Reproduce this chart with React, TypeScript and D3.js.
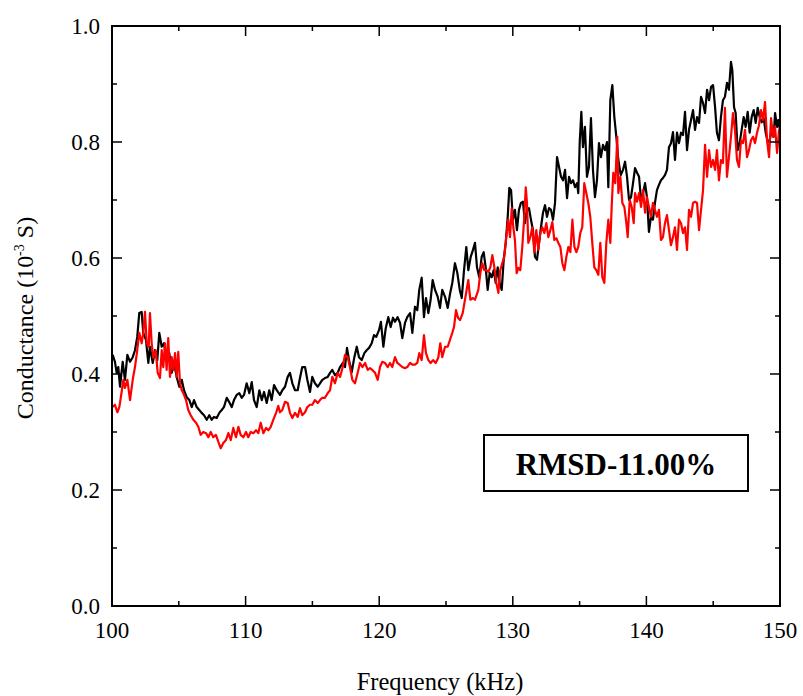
import React from "react";
import * as d3 from "d3";

const freqBlack = [100.05,100.22,100.35,100.47,100.6,100.8,100.97,101.15,101.35,101.55,101.72,101.89,102.04,102.22,102.34,102.54,102.72,102.84,103.05,103.22,103.39,103.54,103.72,103.89,104.09,104.29,104.47,104.64,104.84,105.04,105.22,105.39,105.59,105.79,105.97,106.14,106.34,106.53,106.71,106.89,107.09,107.28,107.46,107.63,107.84,108.03,108.21,108.38,108.59,108.76,108.96,109.13,109.33,109.53,109.71,109.88,110.08,110.28,110.46,110.63,110.83,111.03,111.21,111.38,111.58,111.77,111.95,112.13,112.33,112.57,112.75,112.95,113.15,113.32,113.5,113.7,113.9,114.07,114.24,114.45,114.62,114.82,114.99,115.19,115.4,115.57,115.74,115.94,116.15,116.32,116.49,116.69,116.89,117.07,117.27,117.44,117.59,117.74,117.94,118.14,118.32,118.49,118.69,118.89,119.06,119.24,119.44,119.61,119.78,119.99,120.13,120.31,120.49,120.68,120.86,121.03,121.18,121.38,121.56,121.73,121.93,122.1,122.31,122.48,122.68,122.85,123.0,123.18,123.35,123.5,123.68,123.85,124.0,124.18,124.38,124.55,124.72,124.93,125.13,125.3,125.47,125.67,125.85,126.03,126.18,126.35,126.52,126.67,126.85,127.02,127.17,127.32,127.49,127.67,127.82,127.97,128.12,128.27,128.42,128.57,128.72,128.87,129.02,129.17,129.32,129.47,129.62,129.74,129.87,130.01,130.16,130.31,130.46,130.61,130.76,130.91,131.06,131.21,131.36,131.51,131.66,131.81,131.96,132.11,132.26,132.41,132.56,132.71,132.86,133.01,133.16,133.31,133.46,133.61,133.76,133.91,134.06,134.21,134.36,134.51,134.66,134.81,134.9,135.01,135.13,135.25,135.4,135.55,135.7,135.85,136.0,136.15,136.3,136.45,136.6,136.75,136.9,137.05,137.15,137.3,137.45,137.6,137.75,137.9,138.08,138.25,138.4,138.55,138.7,138.85,139.0,139.15,139.3,139.45,139.6,139.75,139.9,140.04,140.19,140.34,140.49,140.64,140.79,140.94,141.09,141.24,141.39,141.54,141.69,141.84,141.99,142.14,142.29,142.44,142.59,142.74,142.89,143.04,143.19,143.34,143.49,143.64,143.79,143.94,144.09,144.24,144.39,144.54,144.69,144.84,144.99,145.14,145.28,145.43,145.58,145.73,145.88,146.03,146.18,146.33,146.43,146.56,146.68,146.83,146.98,147.13,147.28,147.43,147.58,147.73,147.88,148.03,148.18,148.33,148.48,148.63,148.78,148.93,149.08,149.23,149.38,149.53,149.63,149.78,149.88,150.0];
const condBlack = [0.433,0.421,0.402,0.412,0.378,0.421,0.39,0.433,0.421,0.429,0.441,0.464,0.505,0.507,0.471,0.459,0.419,0.447,0.419,0.441,0.424,0.471,0.447,0.453,0.424,0.436,0.402,0.419,0.395,0.378,0.39,0.372,0.36,0.355,0.343,0.355,0.343,0.338,0.333,0.329,0.321,0.329,0.321,0.326,0.324,0.333,0.338,0.343,0.359,0.352,0.343,0.355,0.364,0.367,0.359,0.364,0.384,0.367,0.386,0.355,0.343,0.372,0.355,0.369,0.35,0.372,0.355,0.381,0.372,0.364,0.372,0.378,0.395,0.402,0.384,0.372,0.372,0.393,0.412,0.412,0.39,0.369,0.395,0.384,0.378,0.384,0.39,0.393,0.395,0.402,0.407,0.398,0.402,0.412,0.419,0.412,0.445,0.424,0.403,0.429,0.447,0.429,0.424,0.436,0.441,0.445,0.453,0.467,0.464,0.476,0.49,0.447,0.479,0.498,0.481,0.497,0.49,0.498,0.488,0.462,0.488,0.498,0.505,0.471,0.516,0.51,0.545,0.566,0.498,0.531,0.505,0.528,0.562,0.545,0.533,0.514,0.545,0.533,0.514,0.538,0.557,0.591,0.574,0.545,0.531,0.579,0.619,0.579,0.602,0.614,0.626,0.584,0.567,0.602,0.61,0.584,0.545,0.574,0.567,0.579,0.557,0.584,0.557,0.545,0.597,0.626,0.671,0.721,0.717,0.666,0.683,0.648,0.683,0.695,0.697,0.66,0.683,0.686,0.666,0.648,0.602,0.597,0.626,0.653,0.678,0.691,0.671,0.686,0.683,0.666,0.695,0.774,0.757,0.74,0.734,0.752,0.703,0.74,0.729,0.734,0.722,0.729,0.712,0.8,0.852,0.791,0.826,0.74,0.757,0.841,0.752,0.705,0.734,0.798,0.774,0.795,0.786,0.8,0.722,0.872,0.898,0.843,0.809,0.769,0.743,0.752,0.766,0.74,0.7,0.705,0.729,0.755,0.747,0.74,0.7,0.712,0.729,0.705,0.645,0.671,0.666,0.695,0.717,0.726,0.734,0.738,0.743,0.752,0.791,0.798,0.817,0.769,0.816,0.798,0.816,0.812,0.852,0.786,0.821,0.838,0.855,0.821,0.843,0.833,0.878,0.867,0.85,0.89,0.872,0.895,0.898,0.86,0.816,0.803,0.843,0.872,0.878,0.902,0.89,0.938,0.924,0.86,0.85,0.786,0.798,0.821,0.843,0.826,0.852,0.816,0.843,0.855,0.833,0.859,0.843,0.834,0.841,0.816,0.8,0.803,0.821,0.809,0.85,0.826,0.838,0.821];

const freqRed = [100.05,100.22,100.4,100.55,100.72,100.85,100.97,101.15,101.35,101.55,101.72,101.89,102.04,102.22,102.34,102.47,102.6,102.75,102.84,102.97,103.09,103.27,103.42,103.59,103.72,103.84,103.97,104.09,104.21,104.34,104.47,104.59,104.72,104.84,104.96,105.09,105.22,105.34,105.54,105.71,105.89,106.09,106.29,106.46,106.64,106.83,107.04,107.21,107.39,107.58,107.78,107.96,108.14,108.33,108.53,108.71,108.89,109.08,109.28,109.46,109.63,109.83,110.03,110.2,110.38,110.58,110.78,110.95,111.13,111.33,111.53,111.7,111.88,112.07,112.28,112.45,112.57,112.75,112.95,113.15,113.32,113.5,113.7,113.9,114.07,114.24,114.45,114.62,114.82,114.99,115.19,115.4,115.57,115.74,115.94,116.15,116.32,116.49,116.69,116.89,117.07,117.27,117.44,117.64,117.81,117.99,118.19,118.39,118.56,118.74,118.94,119.14,119.31,119.48,119.69,119.89,120.06,120.23,120.43,120.64,120.81,120.98,121.18,121.36,121.53,121.73,121.93,122.1,122.31,122.48,122.68,122.85,123.0,123.18,123.35,123.5,123.68,123.85,124.03,124.23,124.42,124.57,124.72,124.93,125.13,125.3,125.47,125.6,125.75,125.9,126.05,126.25,126.42,126.67,126.82,127.02,127.17,127.42,127.57,127.72,127.87,128.02,128.17,128.32,128.47,128.62,128.77,128.92,129.06,129.21,129.36,129.51,129.66,129.79,129.92,130.04,130.16,130.29,130.41,130.56,130.71,130.86,130.97,131.06,131.16,131.31,131.46,131.61,131.76,131.91,132.06,132.21,132.36,132.51,132.66,132.81,132.96,133.11,133.26,133.41,133.56,133.71,133.86,134.01,134.16,134.31,134.46,134.61,134.76,134.9,135.05,135.2,135.35,135.5,135.65,135.8,135.95,136.1,136.25,136.4,136.55,136.7,136.85,137.0,137.15,137.3,137.4,137.52,137.67,137.82,137.9,138.05,138.2,138.35,138.5,138.6,138.75,138.9,139.05,139.15,139.3,139.45,139.6,139.75,139.9,140.04,140.19,140.34,140.49,140.64,140.79,140.94,141.09,141.24,141.39,141.54,141.69,141.84,141.99,142.14,142.29,142.44,142.59,142.74,142.89,143.04,143.19,143.34,143.49,143.64,143.79,143.94,144.09,144.24,144.39,144.54,144.69,144.84,144.99,145.14,145.28,145.43,145.58,145.73,145.88,146.03,146.18,146.33,146.48,146.63,146.78,146.93,147.08,147.23,147.38,147.53,147.68,147.83,147.98,148.13,148.28,148.43,148.58,148.73,148.88,149.03,149.18,149.33,149.48,149.63,149.78,149.93,150.0];
const condRed = [0.343,0.347,0.334,0.343,0.369,0.39,0.376,0.39,0.355,0.39,0.412,0.441,0.471,0.453,0.471,0.507,0.453,0.447,0.505,0.453,0.428,0.441,0.402,0.393,0.441,0.412,0.453,0.407,0.462,0.395,0.429,0.407,0.436,0.395,0.438,0.384,0.372,0.367,0.355,0.338,0.329,0.321,0.316,0.309,0.295,0.3,0.298,0.291,0.3,0.291,0.295,0.283,0.272,0.281,0.286,0.298,0.286,0.307,0.291,0.309,0.295,0.291,0.3,0.291,0.3,0.298,0.303,0.298,0.316,0.298,0.307,0.303,0.309,0.321,0.333,0.345,0.334,0.338,0.352,0.35,0.333,0.324,0.333,0.326,0.341,0.329,0.334,0.343,0.347,0.347,0.355,0.35,0.355,0.359,0.359,0.367,0.372,0.395,0.384,0.402,0.395,0.412,0.433,0.429,0.412,0.39,0.384,0.402,0.419,0.412,0.419,0.407,0.41,0.407,0.402,0.39,0.412,0.421,0.419,0.412,0.419,0.412,0.429,0.419,0.416,0.412,0.41,0.412,0.419,0.416,0.416,0.419,0.436,0.424,0.467,0.436,0.424,0.419,0.424,0.419,0.428,0.453,0.429,0.447,0.447,0.459,0.471,0.481,0.51,0.497,0.493,0.505,0.528,0.562,0.528,0.531,0.528,0.545,0.574,0.591,0.579,0.579,0.576,0.584,0.605,0.584,0.557,0.54,0.579,0.591,0.602,0.636,0.666,0.636,0.686,0.653,0.631,0.574,0.583,0.579,0.619,0.671,0.722,0.695,0.626,0.636,0.653,0.61,0.648,0.614,0.643,0.653,0.643,0.66,0.636,0.648,0.662,0.631,0.634,0.626,0.619,0.591,0.579,0.602,0.619,0.61,0.666,0.619,0.61,0.619,0.643,0.653,0.729,0.712,0.695,0.671,0.626,0.584,0.579,0.571,0.626,0.567,0.557,0.626,0.666,0.626,0.688,0.747,0.729,0.809,0.712,0.74,0.695,0.688,0.66,0.636,0.7,0.688,0.66,0.712,0.697,0.712,0.688,0.717,0.678,0.705,0.688,0.671,0.695,0.683,0.671,0.683,0.631,0.636,0.66,0.674,0.648,0.622,0.636,0.653,0.614,0.666,0.66,0.643,0.653,0.614,0.683,0.671,0.695,0.697,0.695,0.648,0.683,0.717,0.795,0.74,0.786,0.757,0.769,0.752,0.786,0.734,0.769,0.764,0.859,0.74,0.774,0.809,0.85,0.821,0.769,0.757,0.803,0.798,0.821,0.774,0.786,0.803,0.809,0.798,0.816,0.829,0.855,0.838,0.869,0.803,0.774,0.841,0.809,0.826,0.781,0.821,0.803];

const xMajorTicks = [100, 110, 120, 130, 140, 150];
const xMinorTicks = [105, 115, 125, 135, 145];
const yMajorTicks = [0, 0.2, 0.4, 0.6, 0.8, 1.0];
const yMinorTicks = [0.1, 0.3, 0.5, 0.7, 0.9];

const annotation = "RMSD-11.00%";
const xTitle = "Frequency (kHz)";

const W = 803, H = 696;
const L = 112, R = 780, T = 26, B = 606;
const FONT = "'Liberation Serif', 'Times New Roman', serif";

export default function App() {
  const x = d3.scaleLinear().domain([100, 150]).range([L, R]);
  const y = d3.scaleLinear().domain([0, 1]).range([B, T]);
  const line = d3.line<[number, number]>().x(d => x(d[0])).y(d => y(d[1]));
  const black = freqBlack.map((f, i) => [f, condBlack[i]] as [number, number]);
  const red = freqRed.map((f, i) => [f, condRed[i]] as [number, number]);
  const MAJ = 10, MIN = 5;

  return (
    <div style={{ position: "absolute", left: 0, top: 0, width: W, height: H, background: "#fff" }}>
      <svg width={W} height={H} style={{ display: "block", fontFamily: FONT }}>
        <defs>
          <clipPath id="plotclip">
            <rect x={L} y={T} width={R - L} height={B - T} />
          </clipPath>
        </defs>
        <g clipPath="url(#plotclip)" fill="none" strokeWidth={2.2} strokeLinejoin="round">
          <path d={line(black) || ""} stroke="#000" />
          <path d={line(red) || ""} stroke="#ff0000" />
        </g>
        <g stroke="#000" strokeWidth={1.5}>
          {xMajorTicks.map(t => (
            <g key={"xM" + t}>
              <line x1={x(t)} x2={x(t)} y1={B} y2={B - MAJ} />
              <line x1={x(t)} x2={x(t)} y1={T} y2={T + MAJ} />
            </g>
          ))}
          {xMinorTicks.map(t => (
            <g key={"xm" + t}>
              <line x1={x(t)} x2={x(t)} y1={B} y2={B - MIN} />
              <line x1={x(t)} x2={x(t)} y1={T} y2={T + MIN} />
            </g>
          ))}
          {yMajorTicks.map(t => (
            <g key={"yM" + t}>
              <line x1={L} x2={L + MAJ} y1={y(t)} y2={y(t)} />
              <line x1={R} x2={R - MAJ} y1={y(t)} y2={y(t)} />
            </g>
          ))}
          {yMinorTicks.map(t => (
            <g key={"ym" + t}>
              <line x1={L} x2={L + MIN} y1={y(t)} y2={y(t)} />
              <line x1={R} x2={R - MIN} y1={y(t)} y2={y(t)} />
            </g>
          ))}
        </g>
        <rect x={L} y={T} width={R - L} height={B - T} fill="none" stroke="#000" strokeWidth={2} />
        <g fontSize={23} fill="#000">
          {xMajorTicks.map(t => (
            <text key={"xl" + t} x={x(t)} y={B + 32} textAnchor="middle">{String(t)}</text>
          ))}
          {yMajorTicks.map(t => (
            <text key={"yl" + t} x={L - 12} y={y(t) + 8} textAnchor="end">{t.toFixed(1)}</text>
          ))}
        </g>
        <text x={(L + R) / 2 - 6} y={690} textAnchor="middle" fontSize={24.5}>{xTitle}</text>
        <text transform={`translate(33, ${(T + B) / 2 + 2}) rotate(-90)`} textAnchor="middle" fontSize={24}>
          Conductance (10<tspan dy={-9} fontSize={14}>-3</tspan><tspan dy={9}> S)</tspan>
        </text>
        <rect x={484} y={435} width={264} height={56} fill="#fff" stroke="#000" strokeWidth={2} />
        <text x={616} y={475} textAnchor="middle" fontSize={31} fontWeight="bold">{annotation}</text>
      </svg>
    </div>
  );
}
